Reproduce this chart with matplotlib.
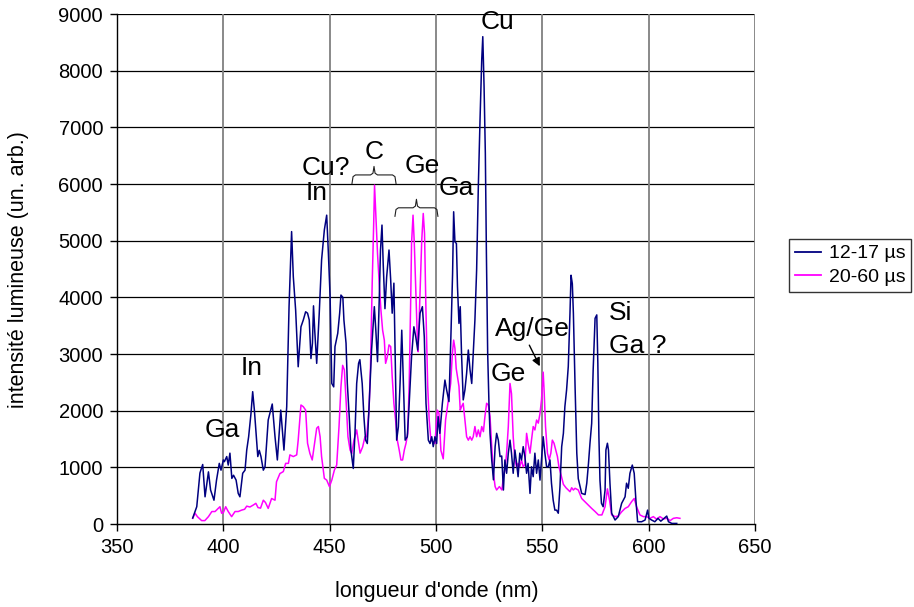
import matplotlib
matplotlib.use("Agg")
import matplotlib.pyplot as plt
from matplotlib.lines import Line2D

plt.rcParams['font.family'] = ['Liberation Sans', 'DejaVu Sans']

# ---- data: wavelength (nm) / intensity (arb. units) ----
wl_12_17 = [385.6, 387.5, 389.0, 390.3, 391.4, 393.0, 394.0, 395.6, 396.8, 398.1, 398.9, 400.0, 400.5,
            401.6, 402.3, 403.1, 404.0, 404.8, 406.0, 407.0, 407.8, 409.1, 410.2, 411.0, 411.9, 413.0,
            413.8, 414.6, 415.4, 416.2, 416.9, 417.7, 418.8, 419.6, 421.1, 423.0, 424.3, 425.4, 427.0,
            428.5, 429.8, 430.9, 432.1, 432.9, 434.0, 435.2, 436.5, 437.6, 438.7, 439.6, 440.4, 441.2,
            441.9, 442.4, 443.0, 443.9, 445.1, 446.2, 447.5, 448.6, 449.4, 450.2, 451.0, 451.9, 452.5,
            453.8, 454.7, 455.3, 456.2, 456.7, 457.7, 458.3, 459.2, 460.0, 461.1, 461.9, 462.7, 463.6,
            464.2, 465.3, 466.1, 466.9, 467.7, 468.6, 469.7, 471.0, 471.7, 472.5, 473.3, 473.9, 474.6,
            475.2, 476.0, 476.8, 477.9, 478.7, 479.4, 480.2, 480.8, 481.5, 482.3, 483.1, 483.9, 484.7,
            485.5, 486.5, 487.4, 488.5, 489.6, 490.5, 491.4, 492.5, 493.6, 494.5, 495.3, 496.4, 497.2,
            498.0, 498.7, 499.5, 500.3, 501.0, 501.8, 503.0, 504.2, 505.0, 506.1, 507.0, 507.8, 508.3,
            508.9, 509.6, 510.1, 510.8, 511.4, 512.0, 512.8, 513.6, 514.4, 515.2, 516.0, 516.8, 517.5,
            518.3, 519.1, 519.9, 520.7, 521.5, 522.0, 522.6, 523.2, 523.7, 524.3, 524.9, 525.4, 526.2,
            527.0, 527.8, 528.5, 529.3, 530.1, 530.9, 531.7, 532.4, 533.2, 534.0, 534.8, 535.5, 536.3,
            537.1, 537.9, 538.6, 539.4, 540.2, 541.0, 541.8, 542.6, 543.3, 544.2, 544.9, 545.7, 546.5,
            547.3, 548.1, 548.9, 549.6, 550.4, 551.2, 552.0, 552.8, 553.6, 554.3, 555.1, 555.9, 556.7,
            557.5, 558.3, 559.1, 559.9, 560.6, 561.4, 562.2, 563.0, 563.5, 564.1, 564.6, 565.4, 566.2,
            566.9, 568.5, 570.1, 570.9, 571.7, 572.4, 573.2, 573.9, 574.8, 575.6, 576.1, 576.6, 577.1,
            577.8, 578.6, 579.5, 579.9, 580.6, 581.1, 581.8, 582.6, 584.2, 585.7, 587.3, 588.9, 589.6,
            590.4, 591.2, 592.3, 593.2, 594.0, 594.8, 596.7, 598.3, 599.5, 600.1, 601.4, 602.9, 604.4,
            605.7, 607.3, 608.5, 609.3, 610.9, 612.4, 613.2]
int_12_17 = [106, 305, 900, 1050, 480, 920, 600, 420, 775, 1070, 950, 1130, 1100,
             1190, 1040, 1250, 805, 860, 775, 540, 480, 895, 950, 1305, 1540, 1950,
             2335, 2010, 1600, 1190, 1300, 1190, 950, 1010, 1835, 2117, 1540, 1130, 2010,
             1305, 2070, 3835, 5160, 4365, 3775, 2775, 3480, 3600, 3745, 3720, 3600, 2920,
             3190, 3850, 3400, 2835, 3720, 4660, 5190, 5450, 4775, 4010, 2480, 2420, 3130,
             3365, 3720, 4040, 4000, 3600, 3190, 2480, 1895, 1305, 980, 1600, 2480, 2835,
             2900, 2480, 1895, 1480, 1420, 2130, 3070, 3835, 3420, 2865, 3950, 4835, 5275,
             4565, 3800, 4360, 4835, 4300, 3720, 4250, 2950, 1480, 1715, 2480, 3420, 2480,
             1480, 1540, 2130, 2950, 3480, 3300, 3070, 3720, 3835, 3300, 2130, 1480, 1420,
             1540, 1365, 1540, 1420, 1895, 1600, 2130, 2540, 2365, 2160, 3305, 4420, 5510,
             4980, 4950, 4190, 3540, 3835, 3010, 2190, 2365, 2660, 3070, 2720, 2480, 3010,
             3600, 4480, 5950, 7130, 8190, 8600, 7720, 6540, 4780, 3010, 2130, 1600, 1130,
             780, 1365, 1600, 1480, 1190, 1200, 600, 1130, 895, 1250, 1480, 1250, 895,
             1305, 1070, 835, 1250, 1130, 1365, 1190, 895, 1070, 540, 1010, 835, 1250,
             895, 1130, 775, 1130, 1540, 1250, 1010, 1010, 1130, 720, 420, 245, 245,
             190, 660, 1365, 1600, 2070, 2365, 2780, 3720, 4390, 4240, 3720, 2420, 1250,
             800, 540, 520, 720, 1070, 1425, 1775, 2720, 3630, 3690, 2835, 1540, 770,
             365, 305, 600, 1305, 1425, 1305, 720, 190, 70, 130, 365, 480, 720,
             630, 895, 1040, 895, 420, 40, 40, 70, 245, 100, 70, 40, 100,
             50, 100, 140, 40, 10, 10, 10]

wl_20_60 = [385.6, 386.7, 387.8, 389.8, 391.3, 393.0, 394.6, 396.1, 397.7, 398.4, 399.2, 400.0, 401.1,
            402.3, 403.9, 405.5, 407.0, 408.6, 410.0, 411.0, 412.5, 414.1, 415.3, 416.3, 417.5, 418.8,
            419.8, 421.1, 422.7, 424.3, 425.0, 426.6, 428.2, 429.3, 430.6, 431.3, 432.9, 434.5, 435.2,
            436.5, 437.6, 438.7, 439.6, 440.7, 441.8, 443.1, 443.9, 444.7, 445.5, 446.2, 447.5, 448.6,
            449.9, 451.0, 452.2, 453.3, 454.4, 455.3, 456.1, 456.9, 457.7, 458.6, 459.6, 460.4, 461.4,
            462.7, 463.4, 464.3, 465.5, 466.6, 467.4, 468.5, 469.2, 470.0, 470.7, 471.1, 471.7, 472.5,
            473.3, 474.1, 474.9, 475.7, 476.3, 477.1, 477.9, 478.7, 479.4, 480.2, 481.0, 481.8, 482.7,
            483.5, 484.3, 485.1, 485.9, 486.7, 487.4, 488.1, 488.5, 489.2, 489.8, 490.5, 491.2, 491.6,
            492.5, 493.3, 494.0, 494.6, 495.3, 496.1, 496.8, 497.6, 498.7, 499.5, 500.6, 501.4, 502.3,
            503.4, 504.5, 505.8, 506.9, 507.7, 508.3, 508.9, 509.5, 510.1, 510.8, 511.4, 512.0, 512.8,
            513.6, 514.4, 515.2, 516.0, 516.8, 517.5, 518.3, 519.1, 519.9, 520.7, 521.5, 522.3, 523.0,
            523.8, 524.6, 525.4, 526.2, 527.0, 527.8, 528.5, 529.8, 531.0, 531.7, 532.4, 533.2, 534.0,
            534.8, 535.5, 536.3, 537.1, 537.9, 538.6, 539.4, 540.2, 541.0, 541.8, 542.6, 543.3, 544.2,
            544.9, 545.7, 546.5, 547.3, 548.1, 548.9, 549.6, 550.4, 550.9, 551.5, 552.4, 553.2, 554.0,
            554.7, 555.5, 556.3, 557.1, 557.8, 558.6, 559.9, 561.1, 562.2, 563.0, 563.8, 564.6, 565.4,
            566.9, 568.5, 570.1, 571.6, 573.2, 574.8, 576.4, 578.0, 579.5, 580.6, 581.6, 582.6, 584.2,
            585.7, 587.3, 588.9, 590.4, 592.0, 593.2, 594.3, 595.9, 597.5, 599.0, 600.6, 602.2, 603.7,
            605.3, 606.9, 608.5, 610.1, 611.6, 613.2, 614.7]
int_20_60 = [100, 190, 130, 60, 60, 130, 220, 220, 280, 305, 190, 200, 305,
             220, 130, 220, 220, 245, 260, 315, 300, 335, 365, 290, 280, 420,
             380, 275, 450, 420, 745, 890, 925, 1070, 1070, 1220, 1190, 1220, 1480,
             2100, 2070, 2010, 1425, 1245, 1130, 1480, 1690, 1720, 1540, 1190, 805, 775,
             660, 775, 950, 1040, 1720, 2420, 2800, 2720, 2190, 1540, 1305, 1245, 1480,
             1660, 1480, 1250, 1360, 1540, 1540, 2010, 2775, 4250, 5300, 5980, 5480, 4775,
             4250, 3775, 3420, 3245, 2835, 2950, 3160, 3130, 2600, 2130, 1835, 1480, 1305,
             1130, 1130, 1305, 1425, 1600, 2480, 3950, 4950, 5450, 4950, 4130, 3300, 3040,
             4100, 5010, 5480, 5130, 3720, 2430, 1835, 1480, 1450, 1420, 2010, 1950, 1300,
             1150, 1835, 2190, 2480, 3010, 3245, 3100, 2745, 2600, 2430, 2010, 2070, 2130,
             1835, 1540, 1480, 1540, 1480, 1540, 1720, 1540, 1660, 1540, 1720, 1630, 1895,
             2130, 2100, 1895, 1365, 895, 660, 600, 660, 600, 835, 950, 1250, 1720,
             2480, 2300, 1540, 1130, 1010, 1070, 1010, 1130, 1010, 1050, 1600, 1425, 1250,
             1480, 1720, 1660, 1835, 1780, 1950, 2190, 2680, 2300, 1720, 1250, 1130, 1250,
             1480, 1425, 1305, 1190, 1010, 895, 700, 640, 600, 570, 640, 600, 630,
             600, 450, 390, 335, 275, 220, 160, 160, 305, 620, 420, 160, 130,
             140, 215, 275, 305, 395, 450, 305, 160, 130, 130, 100, 130, 85,
             130, 90, 100, 60, 100, 110, 100]

series_labels = ["12-17 µs", "20-60 µs"]
series_colors = ["#000080", "#FF00FF"]

x_ticks = [350, 400, 450, 500, 550, 600, 650]
y_ticks = [0, 1000, 2000, 3000, 4000, 5000, 6000, 7000, 8000, 9000]

# peak annotations: (text, wavelength, intensity)
peak_labels = [("Ga", 399.4, 1660), ("In", 413.5, 2750), ("In", 444.0, 5840),
               ("Cu?", 448.3, 6280), ("C", 470.8, 6560), ("Ge", 493.4, 6320),
               ("Ga", 509.4, 5930), ("Cu", 528.7, 8860), ("Ge", 533.9, 2650),
               ("Ag/Ge", 545.1, 3440), ("Si", 587.0, 3720), ("Ga ?", 595.0, 3140)]

# ---- figure ----
fig = plt.figure(figsize=(9.14, 6.07), dpi=100)
ax = fig.add_axes([117/914, 1-524/607, (755-117)/914, (524-14)/607])

ax.set_xlim(350, 650)
ax.set_ylim(0, 9000)
ax.set_xticks(x_ticks)
ax.set_yticks(y_ticks)

# grid: horizontal black, vertical gray
for y in y_ticks[1:]:
    ax.axhline(y, color="#000000", lw=0.9, zorder=0)
for x in x_ticks[1:]:
    ax.axvline(x, color="#808080", lw=1.3, zorder=0)

for s in ["top", "right"]:
    ax.spines[s].set_visible(False)
ax.spines["left"].set_linewidth(1.0)
ax.spines["bottom"].set_linewidth(1.0)

ax.tick_params(axis="both", direction="out", length=5, width=1, labelsize=14.5, colors="black")
ax.tick_params(axis="x", pad=5)
ax.tick_params(axis="y", pad=5)

l1, = ax.plot(wl_12_17, int_12_17, color=series_colors[0], lw=1.1, zorder=3)
l2, = ax.plot(wl_20_60, int_20_60, color=series_colors[1], lw=1.1, zorder=2)

ax.set_xlabel("longueur d'onde (nm)", fontsize=15.5)
ax.set_ylabel("intensité lumineuse (un. arb.)", fontsize=15.5)
ax.xaxis.label.set_verticalalignment("center")
ax.yaxis.label.set_verticalalignment("center")
ax.xaxis.set_label_coords((437-117)/638, (524-592)/510)
ax.yaxis.set_label_coords((18-117)/638, (524-270)/510)

for txt, xv, yv in peak_labels:
    ax.text(xv, yv, txt, fontsize=19, ha="center", va="center", zorder=5)

def brace(x0, x1, y, h):
    xm = (x0 + x1) / 2
    d = (x1 - x0) * 0.08
    xs = [x0, x0 + d * 0.3, x0 + d, xm - d, xm - d * 0.3, xm, xm + d * 0.3, xm + d, x1 - d, x1 - d * 0.3, x1]
    ys = [y - h, y - h * 0.2, y, y, y + h * 0.2, y + h, y + h * 0.2, y, y, y - h * 0.2, y - h]
    ax.plot(xs, ys, color="#202020", lw=0.8, zorder=5, clip_on=False)

brace(460.5, 481.2, 6160, 150)
brace(480.7, 500.9, 5580, 150)

ax.annotate("", xy=(549.4, 2740), xytext=(543.3, 3200),
            arrowprops=dict(arrowstyle="-|>", color="black", lw=1.0, mutation_scale=12), zorder=6)

handles = [Line2D([], [], color=series_colors[0], lw=1.3), Line2D([], [], color=series_colors[1], lw=1.3)]
leg = fig.legend(handles, series_labels, loc="upper left", bbox_to_anchor=(789/914, 1-239/607),
                 frameon=True, fancybox=False, shadow=False, fontsize=14, handlelength=1.35,
                 borderpad=0.3, labelspacing=0.3, handletextpad=0.4, borderaxespad=0)
leg.get_frame().set_edgecolor("black")
leg.get_frame().set_linewidth(1.0)

fig.savefig("out.png", dpi=100)
